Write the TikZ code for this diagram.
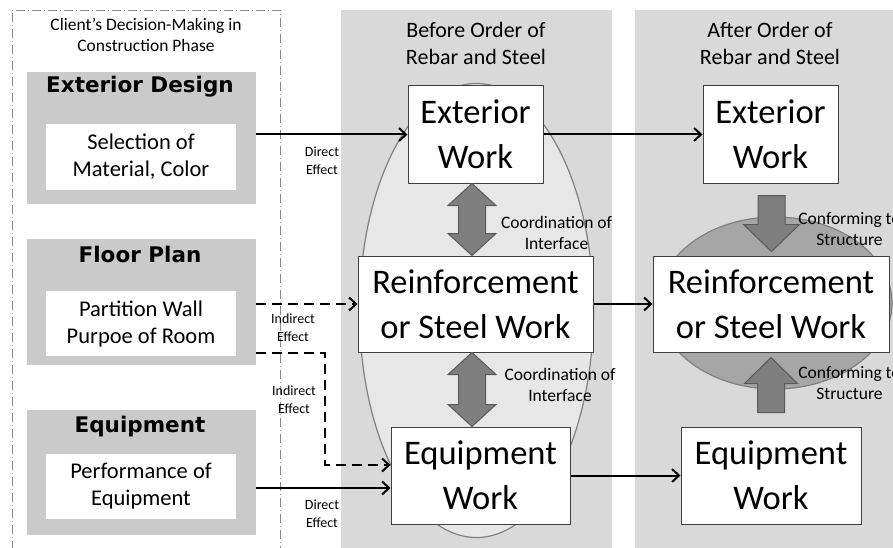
\documentclass[tikz,border=0pt]{standalone}
\usepackage{fontspec}
\setmainfont{Carlito}
\newfontfamily\headfont{DejaVu Sans}
\usetikzlibrary{arrows.meta,calc}

\definecolor{panelgray}{HTML}{D9D9D9}
\definecolor{ovalgray}{HTML}{E7E7E7}
\definecolor{zonegray}{HTML}{A6A6A6}
\definecolor{boxgray}{HTML}{CACACA}
\definecolor{arrgray}{HTML}{7F7F7F}

\tikzset{
  workbox/.style={draw=black!75, fill=white, line width=1pt, inner sep=0pt, align=center,
    font=\fontsize{34.5}{45}\selectfont},
  groupbox/.style={fill=boxgray, inner sep=0pt, minimum width=229pt},
  itembox/.style={fill=white, inner sep=0pt, minimum width=190pt, minimum height=65pt,
    align=center, font=\fontsize{22.5}{27}\selectfont},
  grouphead/.style={anchor=base, font=\headfont\bfseries\fontsize{21.5}{26}\selectfont},
  phase/.style={align=center, font=\fontsize{22}{27}\selectfont},
  note/.style={align=center, font=\fontsize{14}{18}\selectfont},
  remark/.style={align=center, font=\fontsize{17.5}{21}\selectfont},
  effect/.style={line width=2pt, -{Straight Barb[length=7pt,width=13pt]}},
  blockarrow/.style={fill=arrgray, draw=black!65, line width=1pt},
}

% two-headed block arrow between two tips (upper, lower)
\newcommand{\twoway}[2]{%
  \draw[blockarrow] (#1) -- ++(24,22) -- ++(-10.5,0) -- ($(#2)+(13.5,-22)$) -- ++(10.5,0)
    -- (#2) -- ++(-24,-22) -- ++(10.5,0) -- ($(#1)+(-13.5,22)$) -- ++(-10.5,0) -- cycle;}

\begin{document}
\begin{tikzpicture}[x=1pt,y=-1pt]
	\useasboundingbox (0,0) rectangle (893,548);
	\clip (0,0) rectangle (893,548);

	% phase panels
	\fill[panelgray] (341,10) rectangle (612,550);
	\fill[panelgray] (635,10) rectangle (895,550);
	\draw[black!50, line width=1.2pt, fill=ovalgray] (476.5,310.5) ellipse [x radius=117pt, y radius=227pt];
	\draw[black!50, line width=1.2pt, fill=zonegray] (775,303) ellipse [x radius=117pt, y radius=86pt];

	% client side
	\draw[black!45, line width=0.8pt, dash pattern=on 9pt off 3pt on 1pt off 3pt]
		(12,550) -- (12,10) -- (280,10) -- (280,550);
	\node[remark] (client) at (146,35) {Client’s Decision-Making in\\Construction Phase};

	\node[groupbox, minimum height=132pt] (ed) at (141.5,138) {};
	\node[grouphead] (edh) at (140,93) {Exterior Design};
	\node[itembox, minimum height=66pt] (edi) at (141,157) {Selection of\\Material, Color};

	\node[groupbox, minimum height=126pt] (fp) at (141.5,302) {};
	\node[grouphead] (fph) at (140,262) {Floor Plan};
	\node[itembox] (fpi) at (141,323.5) {Partition Wall\\Purpoe of Room};

	\node[groupbox, minimum height=125pt] (eq) at (141.5,472.5) {};
	\node[grouphead] (eqh) at (140,432) {Equipment};
	\node[itembox] (eqi) at (141,486.5) {Performance of\\Equipment};

	% works before / after the order
	\node[phase] (before) at (476,43) {Before Order of\\Rebar and Steel};
	\node[phase] (after) at (770,43) {After Order of\\Rebar and Steel};

	\node[workbox, minimum width=135pt, minimum height=97pt] (ewb) at (475.5,134.5) {Exterior\\Work};
	\node[workbox, minimum width=235pt, minimum height=96pt] (rwb) at (475.5,304) {Reinforcement\\or Steel Work};
	\node[workbox, minimum width=179pt, minimum height=97pt] (qwb) at (480.5,475.5) {Equipment\\Work};

	\node[workbox, minimum width=135pt, minimum height=97pt] (ewa) at (770.5,134.5) {Exterior\\Work};
	\node[workbox, minimum width=236pt, minimum height=96pt] (rwa) at (771,304) {Reinforcement\\or Steel Work};
	\node[workbox, minimum width=180pt, minimum height=97pt] (qwa) at (771,475.5) {Equipment\\Work};

	% effects
	\coordinate (qin) at ($(qwb.west)+(0,12.5)$);
	\draw[effect] (ewb.west -| ed.east) -- (ewb.west);
	\draw[effect, dash pattern=on 10pt off 6pt] (rwb.west -| fp.east) -- (rwb.west);
	\draw[effect, dash pattern=on 10pt off 6pt] ($(fp.south east)+(0,-12)$) -- ++(69,0) |- ($(qwb.west)+(0,-10.5)$);
	\draw[effect] (qin -| eq.east) -- (qin);
	\draw[effect] (ewb.east) -- (ewa.west);
	\draw[effect] (rwb.east) -- (rwa.west);
	\draw[effect] (qwb.east) -- (qwa.west);

	\node[note] (d1) at (322,161) {Direct\\Effect};
	\node[note] (i1) at (293,328) {Indirect\\Effect};
	\node[note] (i2) at (294,400) {Indirect\\Effect};
	\node[note] (d2) at (322,514) {Direct\\Effect};

	% coordination and conforming
	\coordinate (ax) at (472,0);
	\coordinate (t1) at (ax |- ewb.south);
	\coordinate (b1) at (ax |- rwb.north);
	\coordinate (t2) at (ax |- rwb.south);
	\coordinate (b2) at (ax |- qwb.north);
	\twoway{t1}{b1}
	\twoway{t2}{b2}

	\coordinate (u1) at ($(ewa.south)+(1,12)$);
	\coordinate (v1) at ($(rwa.north)+(0.5,-4)$);
	\draw[blockarrow] ($(u1)+(-13.5,0)$) -- ($(u1)+(13.5,0)$) -- ($(v1)+(13.5,-27)$) -- ++(14.5,0)
		-- (v1) -- ++(-28,-27) -- ++(14.5,0) -- cycle;
	\coordinate (w1) at ($(qwa.north)+(0,-14)$);
	\coordinate (z1) at ($(rwa.south)+(0,5)$);
	\draw[blockarrow] ($(w1)+(-13.5,0)$) -- ($(w1)+(13.5,0)$) -- ($(z1)+(13.5,26)$) -- ++(13,0)
		-- (z1) -- ++(-26.5,26) -- ++(13,0) -- cycle;

	\node[remark] (c1) at (556.5,233) {Coordination of\\Interface};
	\node[remark] (c2) at (560,385) {Coordination of\\Interface};
	\node[remark] (s1) at (849.5,229) {Conforming to\\Structure};
	\node[remark] (s2) at (849.5,383) {Conforming to\\Structure};
\end{tikzpicture}
\end{document}
